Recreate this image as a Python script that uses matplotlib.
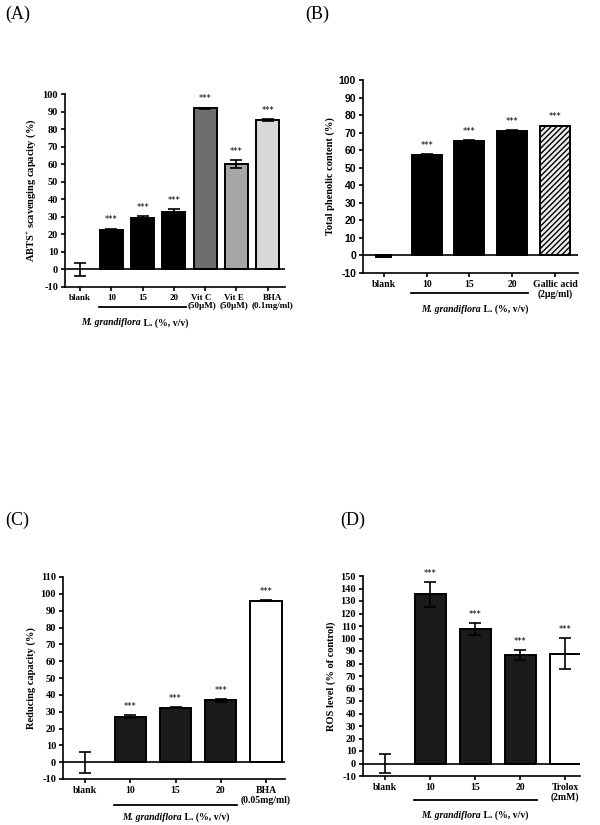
import matplotlib
matplotlib.use('Agg')
import matplotlib.pyplot as plt
import matplotlib.transforms as mtransforms
from matplotlib.offsetbox import TextArea, HPacker, AnnotationBbox

plt.rcParams['font.family'] = 'Liberation Serif'
plt.rcParams['font.weight'] = 'bold'
plt.rcParams['axes.unicode_minus'] = False
plt.rcParams['mathtext.fontset'] = 'custom'
plt.rcParams['mathtext.rm'] = 'Liberation Serif:bold'
plt.rcParams['mathtext.bf'] = 'Liberation Serif:bold'

# Panel A: ABTS+ scavenging
a_labels = ['blank', '10', '15', '20', 'Vit C\n(50µM)', 'Vit E\n(50µM)', 'BHA\n(0.1mg/ml)']
a_values = [0.0, 22.5, 29.3, 32.7, 92.0, 60.2, 85.3]
a_errors = [3.6, 0.8, 1.3, 1.8, 0.3, 2.3, 0.5]
a_colors = ['none', '#000000', '#000000', '#000000', '#6e6e6e', '#a6a6a6', '#d8d8d8']

# Panel B: total phenolic content
b_labels = ['blank', '10', '15', '20', 'Gallic acid\n(2µg/ml)']
b_values = [-0.7, 57.5, 65.5, 71.2, 73.8]
b_errors = [0.4, 0.3, 0.3, 0.3, 0.2]
b_colors = ['#000000', '#000000', '#000000', '#000000', '#d0d0d0']

# Panel C: reducing capacity
c_labels = ['blank', '10', '15', '20', 'BHA\n(0.05mg/ml)']
c_values = [0.0, 27.0, 32.4, 36.7, 95.8]
c_errors = [6.3, 0.8, 0.4, 0.8, 0.3]
c_colors = ['none', '#1a1a1a', '#1a1a1a', '#1a1a1a', '#ffffff']

# Panel D: ROS level
d_labels = ['blank', '10', '15', '20', 'Trolox\n(2mM)']
d_values = [0.0, 135.3, 107.6, 86.7, 88.0]
d_errors = [7.6, 9.8, 5.0, 4.0, 12.4]
d_colors = ['none', '#1a1a1a', '#1a1a1a', '#1a1a1a', '#ffffff']

W, H = 600, 825
fig = plt.figure(figsize=(W / 100, H / 100), dpi=100)


def px_axes(left, top, right, bottom):
    return fig.add_axes([left / W, 1 - bottom / H, (right - left) / W, (bottom - top) / H])


def plant_text(ax, x, y, trans):
    # italic species name followed by upright "L. (%, v/v)"
    p1 = TextArea('M. grandiflora', textprops=dict(fontsize=7, fontweight='bold',
                                                   fontstyle='italic'))
    p2 = TextArea(' L. (%, v/v)', textprops=dict(fontsize=7, fontweight='bold'))
    box = HPacker(children=[p1, p2], pad=0, sep=0, align='baseline')
    ab = AnnotationBbox(box, (x, y), xycoords=trans, frameon=False,
                        box_alignment=(0.5, 0.5), annotation_clip=False)
    ax.add_artist(ab)


def panel(ax, labels, values, errors, colors, ylim, yticks, ylabel, xlim,
          width, hatch_last=False, line_y=-0.105, text_y=-0.19, text_x=2.0,
          blank_width=None, xfs=7):
    n = len(values)
    xs = list(range(n))
    for i in xs:
        if colors[i] == 'none':
            continue
        w = width if (i != 0 or blank_width is None) else blank_width
        bar = ax.bar(i, values[i], width=w, color=colors[i], edgecolor='black',
                     linewidth=1.4, zorder=2)
        if hatch_last and i == n - 1:
            bar[0].set_hatch('//////')
            bar[0].set_facecolor('#eeeeee')
    ax.errorbar(xs, values, yerr=errors, fmt='none', ecolor='black',
                elinewidth=1.2, capsize=4.5, capthick=1.2, zorder=3)
    for i in xs[1:]:
        ax.annotate('***', (i, values[i] + errors[i]), xytext=(0, 3),
                    textcoords='offset points', ha='center', va='bottom',
                    fontsize=6, family='DejaVu Sans', fontweight='normal')
    ax.axhline(0, color='black', linewidth=1.2, zorder=4)
    ax.set_xlim(*xlim)
    ax.set_ylim(*ylim)
    ax.set_yticks(yticks)
    ax.set_xticks(xs)
    ax.set_xticklabels(labels, fontsize=xfs, fontweight='bold', linespacing=1.0)
    ax.set_ylabel(ylabel, fontsize=7.5, fontweight='bold', labelpad=3)
    for s in ['top', 'right']:
        ax.spines[s].set_visible(False)
    for s in ['left', 'bottom']:
        ax.spines[s].set_linewidth(1.2)
    ax.tick_params(axis='both', direction='out', length=3, width=1.2, pad=2)
    ax.tick_params(axis='y', labelsize=7.5)
    trans = mtransforms.blended_transform_factory(ax.transData, ax.transAxes)
    ax.plot([1 - width / 2 - 0.02, 3 + width / 2 + 0.02], [line_y, line_y],
            color='black', linewidth=1.3, transform=trans, clip_on=False)
    plant_text(ax, text_x, text_y, trans)


# (A)
axA = px_axes(65, 94, 285, 287)
panel(axA, a_labels, a_values, a_errors, a_colors, (-10, 100), range(-10, 101, 10),
      r'ABTS$^{+}$ scavenging capacity (%)', (-0.48, 6.55), 0.73,
      line_y=-0.105, text_y=-0.185, text_x=1.75, xfs=6.5)
# nudge the crowded labels under the reference compounds apart
for lbl, dx in zip(axA.get_xticklabels()[4:], [-2.5, -2.0, 3.5]):
    lbl.set_transform(lbl.get_transform() +
                      mtransforms.ScaledTranslation(dx / 72, 0, fig.dpi_scale_trans))

# (B)
axB = px_axes(363, 80, 578, 273)
panel(axB, b_labels, b_values, b_errors, b_colors, (-10, 100), range(-10, 101, 10),
      'Total phenolic content (%)', (-0.49, 4.54), 0.7, hatch_last=True,
      line_y=-0.105, text_y=-0.19, text_x=2.13, blank_width=0.35)
for t in axB.get_yticklabels():
    t.set_family('Liberation Sans')

# (C)
axC = px_axes(63, 577, 285, 779)
panel(axC, c_labels, c_values, c_errors, c_colors, (-10, 110), range(-10, 111, 10),
      'Reducing capacity (%)', (-0.49, 4.42), 0.69,
      line_y=-0.13, text_y=-0.19, text_x=2.0)

# (D)
axD = px_axes(363, 576, 580, 776)
panel(axD, d_labels, d_values, d_errors, d_colors, (-10, 150), range(-10, 151, 10),
      'ROS level (% of control)', (-0.49, 4.33), 0.69,
      line_y=-0.12, text_y=-0.195, text_x=2.0)

for lab, x, y in [('(A)', 5, 14), ('(B)', 305, 14), ('(C)', 5, 520), ('(D)', 340, 520)]:
    fig.text(x / W, 1 - y / H, lab, fontsize=13, fontweight='normal',
             ha='left', va='center')

fig.savefig('out.png', dpi=100, facecolor='white')
